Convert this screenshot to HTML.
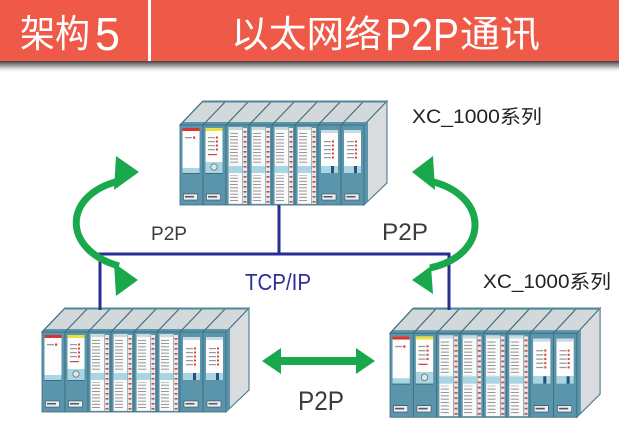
<!DOCTYPE html>
<html><head><meta charset="utf-8"><style>
html,body{margin:0;padding:0;background:#fff;width:619px;height:431px;overflow:hidden}
svg{display:block}
</style></head><body>
<svg width="619" height="431" viewBox="0 0 619 431" xmlns="http://www.w3.org/2000/svg" xmlns:xlink="http://www.w3.org/1999/xlink" font-family="'Liberation Sans','Noto Sans CJK SC',sans-serif">
<defs>
<linearGradient id="sh" x1="0" y1="0" x2="0" y2="1">
<stop offset="0" stop-color="#333" stop-opacity="0.95"/>
<stop offset="0.45" stop-color="#666" stop-opacity="0.55"/>
<stop offset="1" stop-color="#fff" stop-opacity="0"/>
</linearGradient>
<pattern id="tl" width="30" height="3.2" patternUnits="userSpaceOnUse"><rect x="4" y="1" width="8" height="0.8" fill="#808080"/></pattern>
<pattern id="rd" width="30" height="5" patternUnits="userSpaceOnUse"><rect x="17" y="0" width="4" height="5" fill="#e4ebee"/><rect x="17.5" y="1" width="3" height="1.6" fill="#cc4a3a"/></pattern>

<g id="base"><rect x="0" y="25" width="23" height="80" fill="#5b95ab" stroke="#39697c" stroke-width="0.8"/></g>

<g id="psu">
<use xlink:href="#base" href="#base"/>
<rect x="2.5" y="28" width="17" height="40" fill="#fdfdfd"/>
<rect x="2.5" y="28" width="17" height="3" fill="#d8352c"/>
<rect x="5" y="37" width="7" height="1.3" fill="#999"/><rect x="13" y="36.5" width="2.2" height="2.2" fill="#d9443a"/>
<rect x="2.5" y="68" width="17" height="5" fill="#a9d6e2"/>
<rect x="2.5" y="73" width="17" height="1" fill="#3b6b7e"/>
<rect x="3.5" y="94" width="14" height="6" fill="#e8eef0" stroke="#334" stroke-width="0.5"/>
<rect x="5" y="96" width="9" height="1.5" fill="#556"/>
</g>

<g id="cpu">
<use xlink:href="#base" href="#base"/>
<rect x="2.5" y="28" width="17" height="34" fill="#fdfdfd"/>
<rect x="2.5" y="28" width="17" height="3" fill="#ece03c"/>
<rect x="5" y="37" width="7" height="1.2" fill="#999"/><rect x="13" y="36.5" width="2" height="2" fill="#d9443a"/>
<rect x="5" y="41" width="7" height="1.2" fill="#999"/><rect x="13" y="40.5" width="2" height="2" fill="#d9443a"/>
<rect x="5" y="45" width="7" height="1.2" fill="#999"/><rect x="13" y="44.5" width="2" height="2" fill="#d9443a"/>
<rect x="5" y="49" width="7" height="1.2" fill="#999"/><rect x="13" y="48.5" width="2" height="2" fill="#d9443a"/>
<rect x="5" y="54" width="9" height="1.2" fill="#c44"/>
<rect x="2.5" y="62" width="17" height="11" fill="#a9d6e2"/>
<circle cx="11" cy="67" r="3.2" fill="#d6e6eb" stroke="#555" stroke-width="0.6"/>
<rect x="2.5" y="73" width="17" height="1" fill="#3b6b7e"/>
<rect x="3.5" y="94" width="14" height="6" fill="#e8eef0" stroke="#334" stroke-width="0.5"/>
<rect x="5" y="96" width="9" height="1.5" fill="#556"/>
</g>

<g id="io">
<use xlink:href="#base" href="#base"/>
<rect x="2.5" y="27" width="14" height="77" fill="#fafafa" stroke="#8fa8b2" stroke-width="0.4"/>
<rect x="2.5" y="27" width="14" height="3" fill="#c8d9df"/>
<rect x="2.5" y="31" width="14" height="34" fill="url(#tl)"/>
<rect x="2.5" y="66" width="14" height="7" fill="#a9d6e2"/>
<rect x="2.5" y="75" width="14" height="28" fill="url(#tl)"/>
<rect x="17" y="28" width="4" height="76" fill="url(#rd)"/>
</g>

<g id="com">
<use xlink:href="#base" href="#base"/>
<rect x="3" y="30" width="17" height="36" fill="#fdfdfd"/>
<rect x="3" y="30" width="17" height="3" fill="#c9dbe2"/>
<rect x="6" y="41" width="7" height="1.2" fill="#999"/><rect x="14" y="40.5" width="2" height="2" fill="#d9443a"/>
<rect x="6" y="45" width="7" height="1.2" fill="#999"/><rect x="14" y="44.5" width="2" height="2" fill="#d9443a"/>
<rect x="6" y="49" width="7" height="1.2" fill="#999"/><rect x="14" y="48.5" width="2" height="2" fill="#d9443a"/>
<rect x="6" y="53" width="7" height="1.2" fill="#999"/><rect x="14" y="52.5" width="2" height="2" fill="#d9443a"/>
<rect x="6" y="57" width="7" height="1.2" fill="#999"/><rect x="14" y="56.5" width="2" height="2" fill="#d9443a"/>
<rect x="3" y="66" width="17" height="7" fill="#a9d6e2"/>
<rect x="13" y="66" width="3" height="7" fill="#24507a"/>
<rect x="4" y="94" width="14" height="6" fill="#e8eef0" stroke="#334" stroke-width="0.5"/>
<rect x="5.5" y="96" width="9" height="1.5" fill="#556"/>
</g>

<g id="rack">
<polygon points="184,25 207,1 207,83 184,105" fill="#d8dcde" stroke="#3f6f82" stroke-width="1"/>
<polygon points="184,25 188,21 188,101 184,105" fill="#5b95ab"/>
<polygon points="0,25 184,25 207,1 23,1" fill="#d3d8da" stroke="#3f6f82" stroke-width="1"/>
<polygon points="0,25 184,25 187,22 3,22" fill="#5b95ab"/>
<path d="M23,25 L46,1 M46,25 L69,1 M69,25 L92,1 M92,25 L115,1 M115,25 L138,1 M138,25 L161,1 M161,25 L184,1 M0,25 L23,1" stroke="#3f6f82" stroke-width="1.2" fill="none"/>
<path d="M23,1.5 L207,1.5" stroke="#4f879b" stroke-width="2"/>
<use xlink:href="#psu" href="#psu" x="0"/>
<use xlink:href="#cpu" href="#cpu" x="23"/>
<use xlink:href="#io" href="#io" x="46"/>
<use xlink:href="#io" href="#io" x="69"/>
<use xlink:href="#io" href="#io" x="92"/>
<use xlink:href="#io" href="#io" x="115"/>
<use xlink:href="#com" href="#com" x="138"/>
<use xlink:href="#com" href="#com" x="161"/>
</g>
</defs>

<!-- header -->
<rect x="0" y="0" width="619" height="61" fill="#ef5a48"/>
<rect x="0" y="61" width="619" height="12" fill="url(#sh)"/>
<rect x="148" y="0" width="3" height="61" fill="#fff"/>
<text x="20" y="47" font-size="38" fill="#fff" textLength="70" lengthAdjust="spacingAndGlyphs">架构</text>
<text x="95" y="50" font-size="46" fill="#fff" textLength="25" lengthAdjust="spacingAndGlyphs">5</text>
<text x="231" y="47" font-size="37" fill="#fff" textLength="151" lengthAdjust="spacingAndGlyphs">以太网络</text>
<text x="385" y="50" font-size="45" fill="#fff" textLength="74" lengthAdjust="spacingAndGlyphs">P2P</text>
<text x="460" y="47" font-size="37" fill="#fff" textLength="80" lengthAdjust="spacingAndGlyphs">通讯</text>

<!-- racks -->
<use xlink:href="#rack" href="#rack" transform="translate(180,100)"/>
<use xlink:href="#rack" href="#rack" transform="translate(42,307)"/>
<use xlink:href="#rack" href="#rack" transform="translate(390,307) scale(1.015,1.05)"/>

<!-- TCP/IP network lines -->
<path d="M279,205 L279,254 M100,254 L449,254 M100,252.5 L100,310 M449,252.5 L449,310" stroke="#2a2d93" stroke-width="3" fill="none"/>

<!-- green arrows -->
<g fill="#1aa84c">
<path d="M119,181 C62,195 62,250 119,266" stroke="#1aa84c" stroke-width="7" fill="none"/>
<polygon points="116,156 139,172 114,190"/>
<polygon points="114,263 138,280 116,296"/>
<path d="M430,181 C490,195 490,255 430,268" stroke="#1aa84c" stroke-width="7" fill="none"/>
<polygon points="412,172 433,156 435,190"/>
<polygon points="412,280 431,266 433,294"/>
<polygon points="262,361 281,348 281,357 356,357 356,348 375,361 356,374 356,365 281,365 281,374"/>
</g>

<!-- labels -->
<text x="151" y="240" font-size="19" fill="#3c3c3c" textLength="36" lengthAdjust="spacingAndGlyphs">P2P</text>
<text x="382" y="240" font-size="24" fill="#3c3c3c" textLength="46" lengthAdjust="spacingAndGlyphs">P2P</text>
<text x="298" y="410" font-size="27" fill="#3c3c3c" textLength="46" lengthAdjust="spacingAndGlyphs">P2P</text>
<text x="245" y="290" font-size="23" fill="#2e2f9a" textLength="66" lengthAdjust="spacingAndGlyphs">TCP/IP</text>
<text x="412" y="123" font-size="19" fill="#222" textLength="130" lengthAdjust="spacingAndGlyphs">XC_1000系列</text>
<text x="483" y="288" font-size="19" fill="#222" textLength="128" lengthAdjust="spacingAndGlyphs">XC_1000系列</text>
</svg>
</body></html>
